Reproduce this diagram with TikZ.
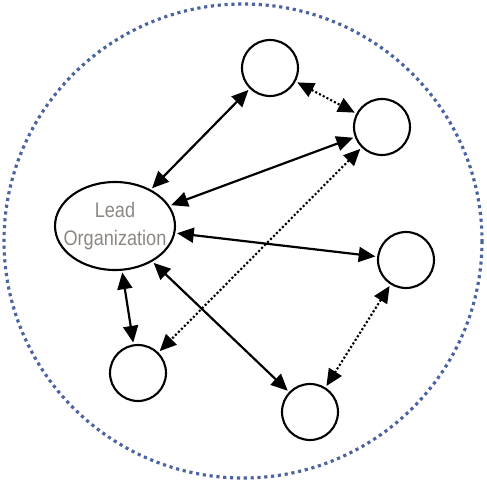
\documentclass[tikz,border=0pt]{standalone}
\usepackage{fontspec}
\setmainfont{Liberation Sans}
\newfontfamily\narrowfont[FakeStretch=0.86]{Liberation Sans}
\usetikzlibrary{arrows.meta,shapes.geometric}
\definecolor{ring}{RGB}{75,100,160}
\definecolor{leadtext}{RGB}{140,135,130}
\tikzset{
  member/.style={circle,draw=black,line width=1.2pt,minimum size=1.12cm,inner sep=0pt},
  leadnode/.style={ellipse,draw=black,line width=1.2pt,minimum width=2.4cm,minimum height=1.76cm,inner sep=0pt},
  leadlabel/.style={align=center,text=leadtext,font=\narrowfont\fontsize{12}{15.5}\selectfont},
  tie/.style={{Triangle[length=9.5pt,width=8.5pt]}-{Triangle[length=9.5pt,width=8.5pt]},line width=1.25pt,shorten <=1pt,shorten >=1pt},
  weak/.style={{Triangle[length=9.5pt,width=8.5pt]}-{Triangle[length=9.5pt,width=8.5pt]},line width=1.2pt,dash pattern=on 1.2pt off 1.2pt,shorten <=1pt,shorten >=1pt}
}
\begin{document}
\begin{tikzpicture}[x=0.02cm,y=-0.02cm]
\useasboundingbox (0,0) rectangle (487,483);
\draw[ring,line width=1.8pt,dash pattern=on 1.8pt off 2.1pt] (243,241) ellipse [x radius=239,y radius=237];
\node[leadnode,label={[leadlabel]center:Lead\\Organization}] (lead) at (115,226) {};
\node[member] (a) at (270,68) {};
\node[member] (b) at (382,127) {};
\node[member] (c) at (406,260) {};
\node[member] (d) at (138,373) {};
\node[member] (e) at (310,412) {};
\draw[tie] (lead) -- (a);
\draw[tie] (lead) -- (b);
\draw[tie] (lead) -- (c);
\draw[tie] (lead) -- (d);
\draw[tie] (lead) -- (e);
\draw[weak] (a) -- (b);
\draw[weak] (b) -- (d);
\draw[weak] (c) -- (e);
\end{tikzpicture}
\end{document}
